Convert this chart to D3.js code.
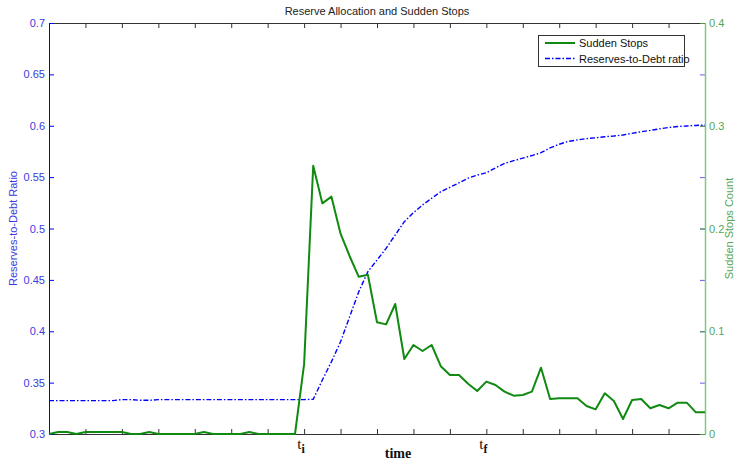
<!DOCTYPE html>
<html><head><meta charset="utf-8">
<script src="https://cdn.jsdelivr.net/npm/d3@7"></script>
<style>
body{margin:0;background:#fff;}
svg{display:block;font-family:"Liberation Sans",Arial,sans-serif;}
</style></head>
<body><svg id="c" width="735" height="461"></svg>
<script>
// ---- data ----
const title = "Reserve Allocation and Sudden Stops";
const timeIndex = d3.range(0, 73);
const suddenStops = [0,0.002,0.002,0,0.002,0.002,0.002,0.002,0.002,0,0,0.002,0,0,0,0,0,0.002,0,0,0,0,0.002,0,0,0,0,0,
  0.068,0.261,0.2245,0.231,0.195,0.173,0.153,0.155,0.1087,0.1067,0.1265,0.073,0.0866,0.0808,0.0866,0.066,0.0574,0.0574,
  0.049,0.0418,0.051,0.0477,0.0412,0.0373,0.038,0.0412,0.0645,0.034,0.0347,0.0347,0.0347,0.0272,0.024,0.0396,0.0321,
  0.0146,0.0331,0.034,0.025,0.0282,0.025,0.0305,0.0305,0.0211,0.0211];
const reservesToDebt = [0.3325,0.3325,0.3325,0.3325,0.3325,0.3325,0.3325,0.3325,0.3335,0.3335,0.3328,0.3328,
  0.3335,0.3335,0.3335,0.3335,0.3335,0.3335,0.3335,0.3335,0.3335,0.3335,0.3335,0.3335,0.3335,0.3335,0.3335,0.3335,0.3335,
  0.3338,0.3525,0.3704,0.3898,0.4142,0.4385,0.458,0.4693,0.4807,0.4937,0.5066,0.5154,0.5229,0.5294,0.5358,0.5401,
  0.5445,0.549,0.552,0.5543,0.559,0.5633,0.566,0.5685,0.571,0.5738,0.5785,0.582,0.5848,0.5862,0.5875,0.5883,0.5893,
  0.590,0.591,0.5926,0.5942,0.5955,0.597,0.5983,0.5993,0.5998,0.6003,0.6007];
const leftTicks = [0.3,0.35,0.4,0.45,0.5,0.55,0.6,0.65,0.7];
const rightTicks = [0,0.1,0.2,0.3,0.4];
const xTicks = d3.range(4, 72, 4);
const xLabelAt = [28, 48];
const xLabelSub = ["i", "f"];
const xTitle = "time";
const leftTitle = "Reserves-to-Debt Ratio";
const rightTitle = "Sudden Stops Count";
const legendNames = ["Sudden Stops", "Reserves-to-Debt ratio"];

// ---- layout ----
const L = 49, R = 705, T = 23, B = 434;
const blue = "#0000ff", green = "#108a10";
const blueText = "#3a3ae0", greenText = "#55a655";
const svg = d3.select("#c");

const x = d3.scaleLinear().domain([0, 72]).range([L, R]);
const yL = d3.scaleLinear().domain([0.3, 0.7]).range([B, T]);
const yR = d3.scaleLinear().domain([0, 0.4]).range([B, T]);
const fmt = d3.format("~g");

// top & bottom axes (ticks inward)
const gTop = svg.append("g").attr("transform", `translate(0,${T})`)
  .call(d3.axisTop(x).tickValues(xTicks).tickSize(-5).tickSizeOuter(0).tickFormat(""));
const gBot = svg.append("g").attr("transform", `translate(0,${B})`)
  .call(d3.axisBottom(x).tickValues(xTicks).tickSize(-5).tickSizeOuter(0).tickFormat(""));
[gTop, gBot].forEach(g => { g.selectAll("path,line").attr("stroke", "#333").attr("stroke-width", 1); });

// left axis
const gL = svg.append("g").attr("transform", `translate(${L},0)`)
  .call(d3.axisLeft(yL).tickValues(leftTicks).tickSize(-5).tickSizeOuter(0).tickPadding(4).tickFormat(fmt));
gL.selectAll("path,line").attr("stroke", blue);
gL.selectAll("text").attr("fill", blueText).style("font-size", "11px").style("font-family", "Liberation Sans, Arial, sans-serif");

// mirrored left ticks on right
const gLR = svg.append("g").attr("transform", `translate(${R},0)`)
  .call(d3.axisRight(yL).tickValues(leftTicks).tickSize(-5).tickSizeOuter(0).tickFormat(""));
gLR.select("path").remove();
gLR.selectAll("line").attr("stroke", "#6060ee");

// right axis
const gR = svg.append("g").attr("transform", `translate(${R},0)`)
  .call(d3.axisRight(yR).tickValues(rightTicks).tickSize(-5).tickSizeOuter(0).tickPadding(4).tickFormat(fmt));
gR.selectAll("path").attr("stroke", "#7fc97f").attr("stroke-width", 1.5);
gR.selectAll("line").attr("stroke", "#4a9a4a");
gR.selectAll("text").attr("fill", greenText).style("font-size", "11px").style("font-family", "Liberation Sans, Arial, sans-serif");

// lines
const clip = svg.append("defs").append("clipPath").attr("id", "pc")
  .append("rect").attr("x", L).attr("y", T - 2).attr("width", R - L).attr("height", B - T + 3);
svg.append("path").datum(timeIndex)
  .attr("d", d3.line().x(i => x(i)).y(i => yL(reservesToDebt[i])))
  .attr("fill", "none").attr("stroke", blue).attr("stroke-width", 1.4)
  .attr("stroke-dasharray", "5,2,1.5,2");
svg.append("path").datum(timeIndex).attr("clip-path", "url(#pc)")
  .attr("d", d3.line().x(i => x(i)).y(i => yR(suddenStops[i])))
  .attr("fill", "none").attr("stroke", green).attr("stroke-width", 2).attr("stroke-linejoin", "round");

// x tick labels (t_i, t_f)
xLabelAt.forEach((v, k) => {
  const t = svg.append("text").attr("x", x(v) - 3).attr("y", B + 15)
    .attr("text-anchor", "middle")
    .style("font-family", "Liberation Serif, Times New Roman, serif").style("font-size", "15px").attr("fill", "#111");
  t.append("tspan").text("t");
  t.append("tspan").attr("dy", 4).style("font-size", "12px").attr("font-weight", "bold").text(xLabelSub[k]);
});
svg.append("text").attr("x", (L + R) / 2 + 21).attr("y", 458).attr("text-anchor", "middle")
  .style("font-family", "Liberation Serif, Times New Roman, serif").style("font-size", "14px")
  .attr("font-weight", "bold").attr("fill", "#111").text(xTitle);

// title
svg.append("text").attr("x", 377).attr("y", 15).attr("text-anchor", "middle")
  .style("font-size", "11px").attr("fill", "#222").text(title);

// axis titles
svg.append("text").attr("transform", `translate(17,${(T + B) / 2}) rotate(-90)`)
  .attr("text-anchor", "middle").style("font-size", "11px").attr("fill", blueText).text(leftTitle);
svg.append("text").attr("transform", `translate(733,${(T + B) / 2}) rotate(-90)`)
  .attr("text-anchor", "middle").style("font-size", "11px").attr("fill", greenText).text(rightTitle);

// legend
const lg = svg.append("g");
lg.append("rect").attr("x", 538.5).attr("y", 35.5).attr("width", 146).attr("height", 31)
  .attr("fill", "#fff").attr("stroke", "#333");
const legStyles = [{c: green, w: 2, d: null}, {c: blue, w: 1.4, d: "5,2,1.5,2"}];
legendNames.forEach((n, k) => {
  const yy = 43 + k * 15.5;
  lg.append("line").attr("x1", 545).attr("x2", 575).attr("y1", yy).attr("y2", yy)
    .attr("stroke", legStyles[k].c).attr("stroke-width", legStyles[k].w)
    .attr("stroke-dasharray", legStyles[k].d);
  lg.append("text").attr("x", 579).attr("y", yy + 4).style("font-size", "11px").attr("fill", "#111").text(n);
});
</script></body></html>
